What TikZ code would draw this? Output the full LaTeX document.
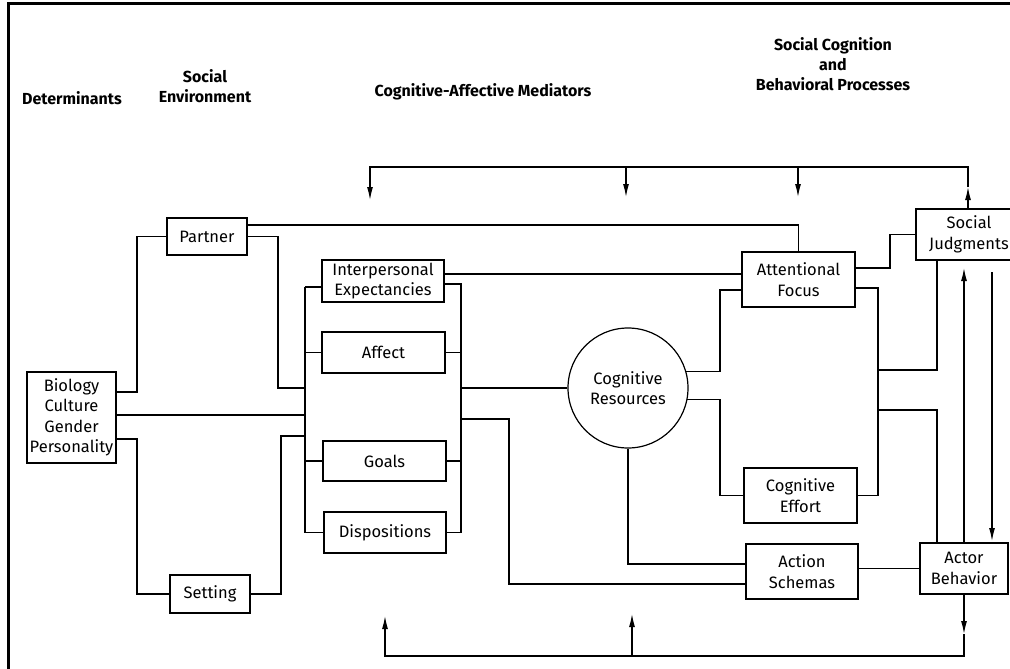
\documentclass[tikz,border=0pt]{standalone}
\usepackage{fontspec}
\setmainfont{Fira Sans}
\usetikzlibrary{arrows.meta}

\begin{document}
\begin{tikzpicture}[x=1pt,y=-1pt,line width=1.2pt,
    box/.style={draw,rectangle,align=center,inner sep=1pt,font=\fontsize{16.5}{20.5}\selectfont},
    head/.style={align=center,font=\fontsize{16}{20}\selectfont\bfseries},
    arr/.style={-{Latex[length=13pt,width=6pt]}}]
  \useasboundingbox (0,0) rectangle (1010,669);
  \draw[line width=3pt] (8,669) -- (8,4) -- (1010,4);

  \node[head] (hdet) at (72,98) {Determinants};
  \node[head] (henv) at (205,86) {Social\\Environment};
  \node[head] (hmed) at (483,92) {Cognitive-Affective Mediators};
  \node[head] (hproc) at (833,64) {Social Cognition\\and\\Behavioral Processes};

  \node[box,minimum width=89pt,minimum height=91pt] (bio) at (71.5,417.5) {Biology\\Culture\\Gender\\Personality};
  \node[box,minimum width=80pt,minimum height=37pt] (partner) at (207,236.5) {Partner};
  \node[box,minimum width=80pt,minimum height=38pt] (setting) at (210,594) {Setting};
  \node[box,minimum width=122pt,minimum height=42pt] (ie) at (383,281) {Interpersonal\\Expectancies};
  \node[box,minimum width=123pt,minimum height=41pt] (affect) at (383.5,352.5) {Affect};
  \node[box,minimum width=123pt,minimum height=40pt] (goals) at (384.5,461) {Goals};
  \node[box,minimum width=122pt,minimum height=41pt] (disp) at (385,532.5) {Dispositions};
  \node[box,circle,minimum size=120pt] (cr) at (628,388) {Cognitive\\Resources};
  \node[box,minimum width=113pt,minimum height=55pt] (af) at (798.5,279.5) {Attentional\\Focus};
  \node[box,minimum width=113pt,minimum height=55pt] (ce) at (800.5,495.5) {Cognitive\\Effort};
  \node[box,minimum width=112pt,minimum height=55pt] (as) at (802,571.5) {Action\\Schemas};
  \node[box,minimum width=106pt,minimum height=51pt] (sj) at (969,234.5) {Social\\Judgments};
  \node[box,minimum width=88pt,minimum height=51pt] (ab) at (964,568.5) {Actor\\Behavior};

  \coordinate (lbus) at (305,0);
  \coordinate (rbus) at (461,0);
  \coordinate (cbus) at (720,0);
  \coordinate (fbus) at (878,0);
  \coordinate (jbus) at (937,0);
  \coordinate (top) at (0,167);
  \coordinate (bot) at (0,656);

  % determinants and social environment
  \draw (bio.east |- 0,392) -- (137,392) |- (partner.west);
  \draw (bio.east |- 0,415) -- (lbus |- 0,415);
  \draw (bio.east |- 0,439) -- (137,439) |- (setting.west);
  \draw (partner.east) -| (278,388) -- (lbus |- 0,388);
  \draw (partner.east |- 0,225) -| (af.north);
  \draw (setting.east) -| (281,436) -- (lbus |- 0,436);

  % mediators
  \draw (lbus |- 0,287) -- (lbus |- disp.west);
  \draw (ie.west |- 0,287) -- (lbus |- 0,287);
  \draw (affect.west) -- (affect.west -| lbus);
  \draw (goals.west) -- (goals.west -| lbus);
  \draw (disp.west) -- (disp.west -| lbus);
  \draw (ie.east |- 0,284) -| (rbus |- disp.east) -- (disp.east);
  \draw (affect.east) -- (affect.east -| rbus);
  \draw (goals.east) -- (goals.east -| rbus);
  \draw (rbus |- cr.west) -- (cr.west);
  \draw (rbus |- 0,419) -- (509,419) |- (as.west |- 0,584);
  \draw (ie.east |- 0,274) -- (af.west |- 0,274);

  % processes
  \draw (cr.16) -- (cr.16 -| cbus) |- (af.west |- 0,290);
  \draw (cr.-11) -- (cr.-11 -| cbus) |- (ce.west);
  \draw (cr.south) |- (as.west |- 0,564);
  \draw (af.east |- 0,268) -- (890,268) |- (sj.west);
  \draw (af.east |- 0,288) -| (fbus |- ce.east) -- (ce.east);
  \draw (fbus |- 0,370) -| (jbus |- sj.south);
  \draw (fbus |- 0,410) -| (jbus |- ab.north);
  \draw (as.east |- ab.west) -- (ab.west);
  \draw[arr] (ab.north) -- (964,268);
  \draw[arr] (992,272) -- (992,541);

  % feedback loops
  \draw[arr] (sj.north -| 968,0) -- (968,187);
  \draw[arr] (968,187) -- (968,0 |- top) -| (370,200);
  \draw[arr] (626,0 |- top) -- (626,197);
  \draw[arr] (798,0 |- top) -- (798,197);
  \draw[arr] (ab.south) -- (ab.south |- 0,634);
  \draw[arr] (ab.south |- 0,634) -- (ab.south |- bot) -| (385,616);
  \draw[arr] (632,0 |- bot) -- (632,614);
\end{tikzpicture}
\end{document}
